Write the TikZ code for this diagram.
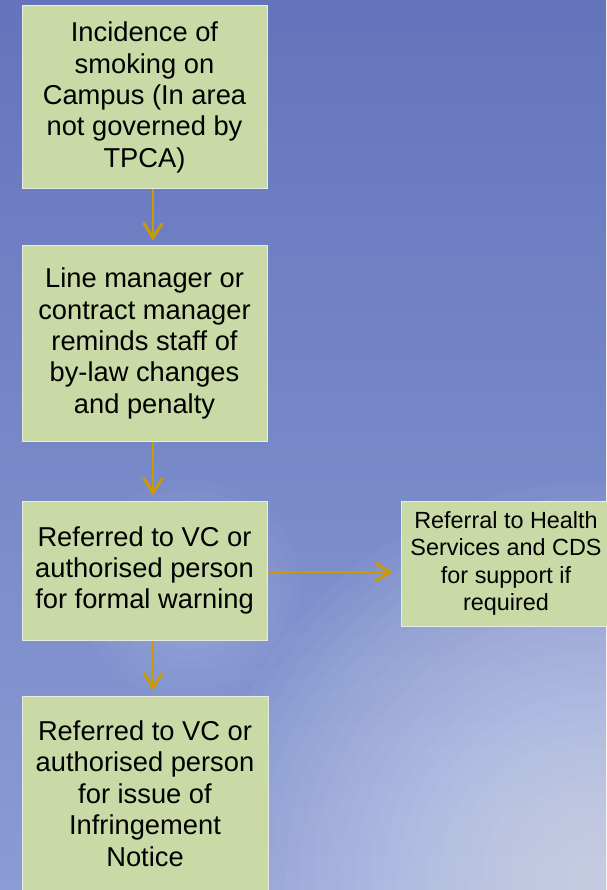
\documentclass[tikz,border=0pt]{standalone}
\usepackage{fontspec}
\setmainfont{Liberation Sans}
\usetikzlibrary{arrows.meta}
\definecolor{skytop}{RGB}{100,116,188}
\definecolor{skylow}{RGB}{138,156,212}
\definecolor{boxfill}{RGB}{201,218,166}
\definecolor{boxline}{RGB}{232,236,222}
\definecolor{arrgold}{RGB}{204,153,0}

\begin{document}
\begin{tikzpicture}[
  x=1pt, y=-1pt,
  B/.style = {draw=boxline, fill=boxfill, line width=1pt, inner sep=0pt,
              minimum width=245pt, align=center, text=black,
              font=\fontsize{27.3}{31.4}\selectfont},
  S/.style = {draw=boxline, fill=boxfill, line width=1pt, inner sep=0pt,
              minimum width=210pt, minimum height=125pt, align=center,
              text=black, font=\fontsize{23.4}{27.6}\selectfont},
  arr/.style = {-{Straight Barb[length=15pt,width=19pt]},
                line width=2.8pt, color=arrgold, shorten >=5pt}
]
\useasboundingbox (0,0) rectangle (606,890);

% sky
\fill[top color=skytop, bottom color=skylow] (0,0) rectangle (606,890);
\foreach \r in {20,34,...,400}
  \fill[white, opacity=0.03] (600,880) circle (\r);
\foreach \r in {10,20,...,110}
  \fill[white, opacity=0.025] (190,590) circle (\r);

% main column
\node[B, minimum height=183pt] (inc)    at (144.5, 97.5)
  {Incidence of\\smoking on\\Campus (In area\\not governed by\\TPCA)};
\node[B, minimum height=195pt] (remind) at (144.5,343.5)
  {Line manager or\\contract manager\\reminds staff of\\by-law changes\\and penalty};
\node[B, minimum height=139pt] (warn)   at (144.5,570.5)
  {Referred to VC or\\authorised person\\for formal warning};
\node[B, minimum height=195pt, minimum width=246pt] (notice) at (145,793.5)
  {Referred to VC or\\authorised person\\for issue of\\Infringement\\Notice};

% side box
\node[S] (health) at (506,563.5)
  {Referral to Health\\Services and CDS\\for support if\\required};

% arrows
\coordinate (col) at (153,0);
\draw[arr] (inc.south -| col)    -- (remind.north -| col);
\draw[arr] (remind.south -| col) -- (warn.north -| col);
\draw[arr] (warn.south -| col)   -- (notice.north -| col);
\draw[arr, shorten >=8pt] ([yshift=-1.5pt]warn.east) -- ([yshift=-1.5pt]warn.east -| health.west);

\end{tikzpicture}
\end{document}
